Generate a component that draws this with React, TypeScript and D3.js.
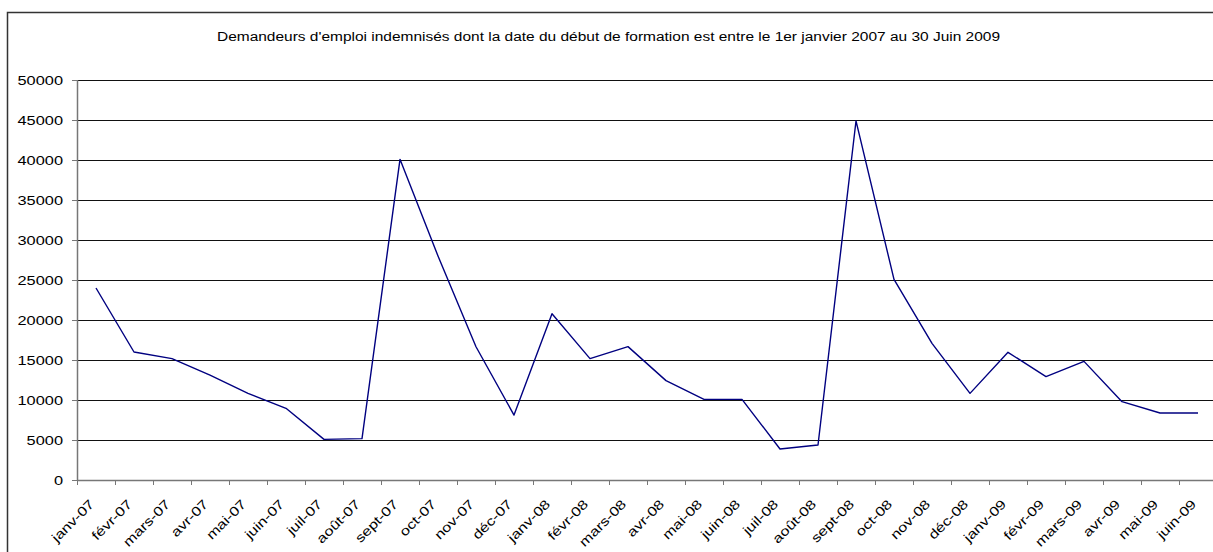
import * as d3 from "d3";
import React, { useEffect, useRef } from "react";

const months = [
    "janv-07", "févr-07", "mars-07", "avr-07", "mai-07", "juin-07",
    "juil-07", "août-07", "sept-07", "oct-07", "nov-07", "déc-07",
    "janv-08", "févr-08", "mars-08", "avr-08", "mai-08", "juin-08",
    "juil-08", "août-08", "sept-08", "oct-08", "nov-08", "déc-08",
    "janv-09", "févr-09", "mars-09", "avr-09", "mai-09", "juin-09",
];

const demandeurs = [
    24000, 16000, 15170, 13100, 10830, 8960,
    5080, 5170, 40080, 28000, 16660, 8120,
    20790, 15170, 16670, 12420, 10080, 10080,
    3880, 4380, 44880, 25080, 17080, 10830,
    15960, 12920, 14830, 9790, 8380, 8380,
];

const yTicks = [0, 5000, 10000, 15000, 20000, 25000, 30000, 35000, 40000, 45000, 50000];

const title = "Demandeurs d'emploi indemnisés dont la date du début de formation est entre le 1er janvier 2007 au 30 Juin 2009";

const W = 1213;
const H = 552;
const FONT = "'Liberation Sans', Arial, sans-serif";

export default function App() {
    const ref = useRef<SVGSVGElement>(null);

    useEffect(() => {
        const svg = d3.select(ref.current);
        svg.selectAll("*").remove();

        const left = 77;
        const top = 80;
        const bottom = 480;
        const step = 38;
        const right = left + step * months.length;

        const x = d3.scaleBand<string>().domain(months).range([left, right]).padding(0);
        const y = d3.scaleLinear().domain([0, 50000]).range([bottom, top]);

        // chart frame (runs off the picture on the right and bottom)
        svg.append("rect")
            .attr("x", 7.5).attr("y", 12.5)
            .attr("width", W + 20).attr("height", H + 20)
            .attr("fill", "white")
            .attr("stroke", "#333")
            .attr("stroke-width", 1.5);

        svg.append("text")
            .attr("x", 608.5).attr("y", 41)
            .attr("text-anchor", "middle")
            .attr("font-family", FONT)
            .attr("font-size", 12.5)
            .attr("textLength", 783)
            .attr("lengthAdjust", "spacingAndGlyphs")
            .attr("fill", "#000")
            .text(title);

        // gridlines
        svg.append("g").selectAll("line")
            .data(yTicks.filter(d => d > 0))
            .enter().append("line")
            .attr("x1", left).attr("x2", right)
            .attr("y1", d => Math.round(y(d)) + 0.5)
            .attr("y2", d => Math.round(y(d)) + 0.5)
            .attr("stroke", "#111")
            .attr("stroke-width", 1);

        // y axis
        const yAxis = svg.append("g");
        yAxis.append("line")
            .attr("x1", left + 0.5).attr("x2", left + 0.5)
            .attr("y1", top).attr("y2", bottom)
            .attr("stroke", "#777").attr("stroke-width", 1.5);
        yAxis.selectAll(".yt")
            .data(yTicks)
            .enter().append("line")
            .attr("class", "yt")
            .attr("x1", left - 5).attr("x2", left)
            .attr("y1", d => Math.round(y(d)) + 0.5)
            .attr("y2", d => Math.round(y(d)) + 0.5)
            .attr("stroke", "#777");
        yAxis.selectAll("text")
            .data(yTicks)
            .enter().append("text")
            .attr("transform", d => `translate(63,${y(d) + 4.6}) scale(1.26,1)`)
            .attr("text-anchor", "end")
            .attr("font-family", FONT)
            .attr("font-size", 13)
            .attr("fill", "#000")
            .text(d => String(d));

        // x axis
        const xAxis = svg.append("g");
        xAxis.append("line")
            .attr("x1", left).attr("x2", right)
            .attr("y1", bottom + 0.5).attr("y2", bottom + 0.5)
            .attr("stroke", "#777").attr("stroke-width", 1.5);
        const bounds = months.map(m => x(m) as number).concat([right]);
        xAxis.selectAll(".xt")
            .data(bounds)
            .enter().append("line")
            .attr("class", "xt")
            .attr("x1", d => Math.round(d) + 0.5).attr("x2", d => Math.round(d) + 0.5)
            .attr("y1", bottom).attr("y2", bottom + 5)
            .attr("stroke", "#777");
        xAxis.selectAll("text")
            .data(months)
            .enter().append("text")
            .attr("transform", d => {
                const cx = (x(d) as number) + x.bandwidth() / 2;
                return `translate(${cx - 1},505) rotate(-45) scale(1.26,1)`;
            })
            .attr("text-anchor", "end")
            .attr("font-family", FONT)
            .attr("font-size", 13)
            .attr("fill", "#000")
            .text(d => d);

        // series
        const line = d3.line<number>()
            .x((_, i) => (x(months[i]) as number) + x.bandwidth() / 2)
            .y(d => y(d));
        svg.append("path")
            .datum(demandeurs)
            .attr("d", line)
            .attr("fill", "none")
            .attr("stroke", "#000080")
            .attr("stroke-width", 1.4)
            .attr("stroke-linejoin", "round");
    }, []);

    return (
        <svg ref={ref} width={W} height={H}
            style={{ position: "absolute", left: 0, top: 0, background: "white" }} />
    );
}
